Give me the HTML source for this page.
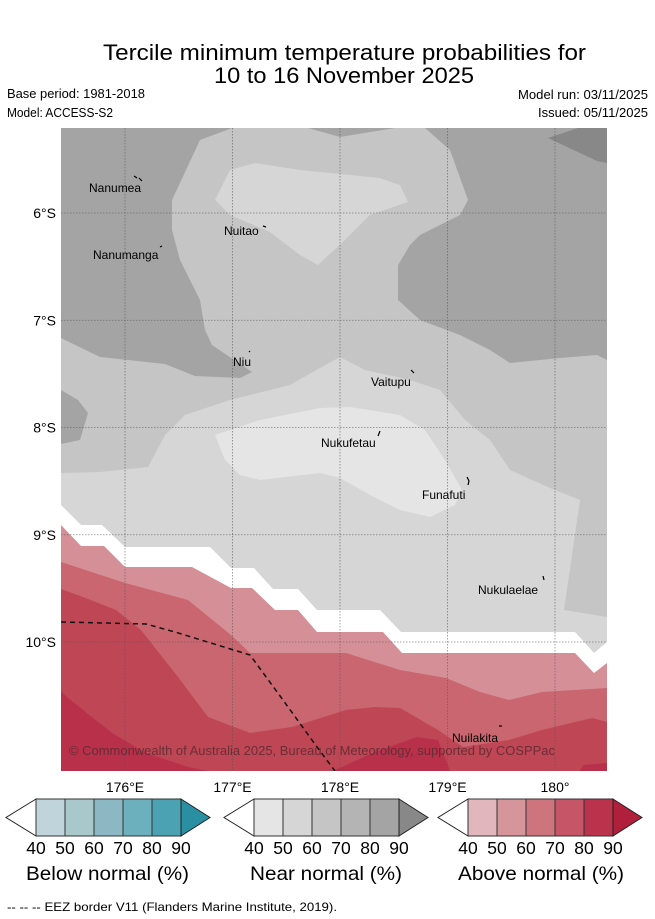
<!DOCTYPE html>
<html><head><meta charset="utf-8">
<style>
body{margin:0;background:#fff;font-family:"Liberation Sans",sans-serif;}
svg{display:block}
text{font-family:"Liberation Sans",sans-serif;}
</style></head>
<body>
<svg id="fig" width="655" height="919" viewBox="0 0 655 919" xmlns="http://www.w3.org/2000/svg">
<rect width="655" height="919" fill="#fff"/>
<text x="103" y="60" font-size="22" textLength="483" lengthAdjust="spacingAndGlyphs" fill="#000">Tercile minimum temperature probabilities for</text>
<text x="214" y="83" font-size="22" textLength="260" lengthAdjust="spacingAndGlyphs" fill="#000">10 to 16 November 2025</text>
<text x="7" y="98" font-size="12.5" textLength="138" lengthAdjust="spacingAndGlyphs">Base period: 1981-2018</text>
<text x="7" y="117" font-size="12.5" textLength="106" lengthAdjust="spacingAndGlyphs">Model: ACCESS-S2</text>
<text x="518" y="99" font-size="12.5" textLength="130" lengthAdjust="spacingAndGlyphs">Model run: 03/11/2025</text>
<text x="538" y="117" font-size="12.5" textLength="110" lengthAdjust="spacingAndGlyphs">Issued: 05/11/2025</text>

<defs><clipPath id="mapclip"><rect x="61" y="128" width="546" height="643"/></clipPath></defs>
<g id="map" clip-path="url(#mapclip)">
<rect x="61" y="128" width="546" height="643" fill="#c5c5c5"/>
<polygon fill="#a4a4a4" points="61,128 232,128 200,140 172,200 172,230 180,260 200,300 205,330 212,345 252,372 240,378 195,376 165,364 100,357 61,338"/>
<polygon fill="#a4a4a4" points="308,128 340,137 395,128"/>
<polygon fill="#a4a4a4" points="425,128 450,150 468,200 460,215 420,235 410,245 398,265 398,300 420,320 460,335 490,350 510,363 560,358 597,355 607,360 607,128"/>
<polygon fill="#888888" points="548,138 578,128 607,128 607,163 597,161"/>
<polygon fill="#a4a4a4" points="61,390 78,400 88,413 80,440 61,444"/>
<polygon fill="#d6d6d6" points="215,200 230,170 255,163 300,170 380,178 400,185 408,202 370,215 345,240 318,265 300,255 270,232 230,215"/>
<polygon fill="#d6d6d6" points="61,473 100,472 148,467 165,435 185,415 230,400 290,385 320,368 340,357 365,370 410,380 440,390 465,420 490,440 510,470 550,488 580,500 572,555 564,610 607,617 607,771 61,771"/>
<polygon fill="#e5e5e5" points="215,435 260,420 320,408 350,407 400,415 425,430 445,460 462,490 455,505 430,517 400,510 370,495 340,478 320,473 260,480 240,475 225,460"/>
<polygon fill="#ffffff" points="61,505 81,525 102,525 125,547 210,547 231,568 254,568 273,589 298,589 317,610 380,610 401,632 575,632 594,653 607,642 607,771 61,771"/>
<polygon fill="#d58f96" points="61,525 81,546 104,546 125,567 192,567 231,588 252,588 275,610 298,610 317,632 383,632 402,653 575,653 594,673 607,663 607,771 61,771"/>
<polygon fill="#c96670" points="61,562 125,583 188,600 231,635 250,653 346,653 400,670 446,678 480,692 509,700 542,692 607,688 607,771 61,771"/>
<polygon fill="#bf4655" points="61,589 83,597 116,610 141,630 178,677 208,717 250,733 292,727 346,710 375,707 400,708 438,730 463,747 509,740 542,730 592,718 607,722 607,771 61,771"/>
<polygon fill="#b8304a" points="61,692 83,710 112,733 146,753 188,767 208,771 61,771"/>
<polygon fill="#b8304a" points="333,771 375,752 417,737 438,740 450,771"/>
<polygon fill="#b8304a" points="583,765 607,763 607,771 580,771"/>
<g id="grid"></g>
<polyline fill="none" stroke="#111" stroke-width="1.5" stroke-dasharray="5,4" points="61,622 146,624 175,632 250,655 283,700 317,747 335,771"/>
<text x="69" y="755" font-size="13" textLength="486" lengthAdjust="spacingAndGlyphs" fill="#5a2a30" fill-opacity="0.85">© Commonwealth of Australia 2025, Bureau of Meteorology, supported by COSPPac</text>
<g font-size="12" fill="#000">
<text x="89" y="192">Nanumea</text>
<text x="224" y="235">Nuitao</text>
<text x="93" y="259">Nanumanga</text>
<text x="233" y="366">Niu</text>
<text x="371" y="386">Vaitupu</text>
<text x="321" y="447">Nukufetau</text>
<text x="422" y="499">Funafuti</text>
<text x="478" y="594">Nukulaelae</text>
<text x="452" y="742">Nuilakita</text>
</g>
<g stroke="#000" stroke-width="1.2" fill="none">
<path d="M134,176 l3,2 M139,178 l3,3"/><path d="M263,226 l3,1"/><path d="M160,247 l2,-1"/><path d="M249,352 l1,-1"/>
<path d="M411,370 l3,3"/><path d="M380,431 l-2,5"/><path d="M467,477 l2,4 -1,4"/><path d="M543,576 l1,4"/><path d="M499,726 l3,0"/>
</g>
</g>
<g id="axislabels"></g>
<g id="colorbars"></g>
<text x="7" y="911" font-size="12" textLength="330" lengthAdjust="spacingAndGlyphs">--  --  -- EEZ border V11 (Flanders Marine Institute, 2019).</text>
</svg>
<script>
const lonTicks=[176,177,178,179,180];
const lonLabels=["176°E","177°E","178°E","179°E","180°"];
const latTicks=[6,7,8,9,10];
const latLabels=["6°S","7°S","8°S","9°S","10°S"];
const cbLevels=["40","50","60","70","80","90"];
const cbTitles=["Below normal (%)","Near normal (%)","Above normal (%)"];
const belowColors=["#bfd5db","#a9c8cc","#8bb8c3","#6cafbd","#4aa2b3","#2b8fa3"];
const nearColors=["#e5e5e5","#d6d6d6","#c5c5c5","#b4b4b4","#a4a4a4","#888888"];
const aboveColors=["#e1b7bd","#d6949b","#cd747c","#c65567","#ba324c","#b0203c"];
const NS="http://www.w3.org/2000/svg";
const xOf=lon=>125+(lon-176)*107.5;
const yOf=lat=>213+(lat-6)*107.25;
function mk(tag,attrs,parent){const e=document.createElementNS(NS,tag);for(const k in attrs)e.setAttribute(k,attrs[k]);parent.appendChild(e);return e;}
const grid=document.getElementById('grid'),ax=document.getElementById('axislabels');
lonTicks.forEach((v,i)=>{
 const l=mk('line',{x1:xOf(v),x2:xOf(v),y1:128,y2:771,stroke:'#555','stroke-width':0.8,'stroke-dasharray':'1.5,1.5','stroke-opacity':0.7},grid);
 
 
 const t=mk('text',{x:xOf(v),y:792,'font-size':14,'text-anchor':'middle'},ax);t.textContent=lonLabels[i];
 
 
});
latTicks.forEach((v,i)=>{
 const l=mk('line',{x1:61,x2:607,y1:yOf(v),y2:yOf(v),stroke:'#555','stroke-width':0.8,'stroke-dasharray':'1.5,1.5','stroke-opacity':0.7},grid);
 
 
 const t=mk('text',{x:56,y:yOf(v)+5,'font-size':14,'text-anchor':'end'},ax);t.textContent=latLabels[i];
 
 
});
const cbg=document.getElementById('colorbars');
const titleX=[26,250,458],titleW=[163,152,166];
[belowColors,nearColors,aboveColors].forEach((cols,b)=>{
 const x0=[36,254,468][b],w=29,y0=799,h=37;
 const g=mk('g',{},cbg);
 
 
 mk('polygon',{points:`${x0},${y0} ${x0-30},${y0+h/2} ${x0},${y0+h}`,fill:'#fff',stroke:'#222','stroke-width':1},g);
 for(let i=0;i<5;i++){
  const r=mk('rect',{x:x0+i*w,y:y0,width:w,height:h,fill:cols[i],stroke:'#333','stroke-width':1},g);
  
  
 }
 mk('polygon',{points:`${x0+5*w},${y0} ${x0+5*w+29},${y0+h/2} ${x0+5*w},${y0+h}`,fill:cols[5],stroke:'#222','stroke-width':1},g);
 cbLevels.forEach((lv,i)=>{const t=mk('text',{x:x0+i*w,y:854,'font-size':17.5,'text-anchor':'middle'},g);t.textContent=lv;
  
  });
 const tt=mk('text',{x:titleX[b],y:880,'font-size':19.5,textLength:titleW[b],lengthAdjust:'spacingAndGlyphs'},g);tt.textContent=cbTitles[b];
 
 
});
</script>
</body></html>
